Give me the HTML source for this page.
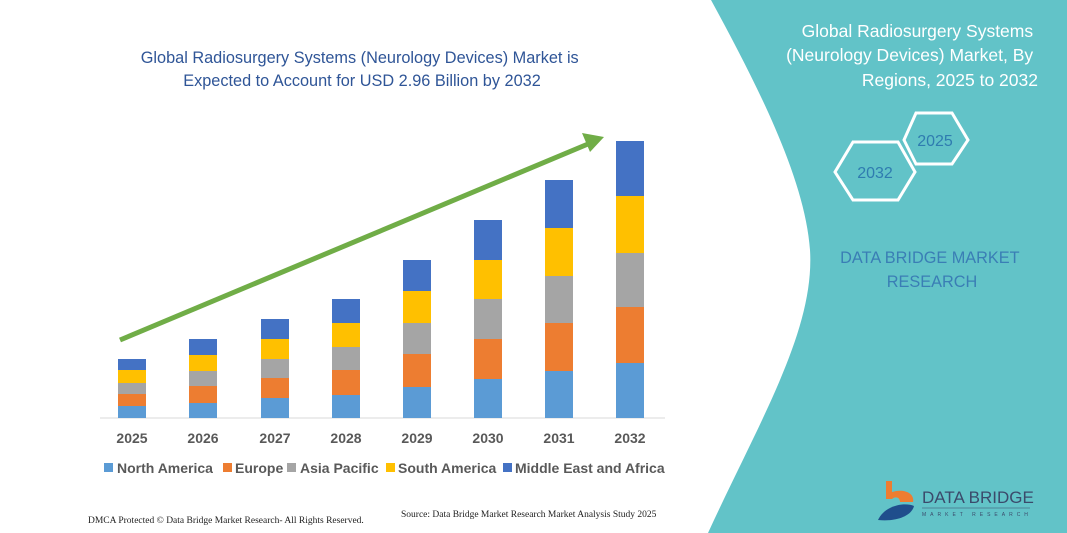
<!DOCTYPE html>
<html><head><meta charset="utf-8"><style>
html,body{margin:0;padding:0;background:#fff;}
svg{display:block;}
</style></head><body>
<svg width="1067" height="533" viewBox="0 0 1067 533" xmlns="http://www.w3.org/2000/svg" font-family="Liberation Sans, sans-serif">
<rect width="1067" height="533" fill="#fff"/>
<path d="M711,0 L1067,0 L1067,533 L708,533 C760,420 815,330 810,250 C805,180 760,90 711,0 Z" fill="#62C3C8"/>
<text text-anchor="middle" font-size="16.3" fill="#2F5597">
<tspan x="362" y="63">Global Radiosurgery Systems (Neurology Devices) Market is</tspan>
<tspan x="362" y="86">Expected to Account for USD 2.96 Billion by 2032</tspan></text>
<text text-anchor="end" font-size="17.5" fill="#fff">
<tspan x="1038" y="37">Global Radiosurgery Systems</tspan>
<tspan x="1038" y="61">(Neurology Devices) Market, By</tspan>
<tspan x="1038" y="86">Regions, 2025 to 2032</tspan></text>
<polygon points="916,113 952,113 968,140 952,164 916,164 904,140" fill="none" stroke="#fff" stroke-width="3"/>
<polygon points="853,142 898,142 915,172 898,200 853,200 835,172" fill="none" stroke="#fff" stroke-width="3"/>
<text x="935" y="146" text-anchor="middle" font-size="16" fill="#2F7CB0">2025</text>
<text x="875" y="178" text-anchor="middle" font-size="16" fill="#2F7CB0">2032</text>
<text text-anchor="middle" font-size="16.3" fill="#3A7EB5">
<tspan x="932" y="263">DATA BRIDGE MARKET</tspan>
<tspan x="932" y="287">RESEARCH</tspan></text>
<line x1="100" y1="418" x2="665" y2="418" stroke="#d9d9d9" stroke-width="1"/>
<g>
<rect x="118" y="406" width="28" height="12" fill="#5B9BD5"/><rect x="118" y="394" width="28" height="12" fill="#ED7D31"/><rect x="118" y="383" width="28" height="11" fill="#A5A5A5"/><rect x="118" y="370" width="28" height="13" fill="#FFC000"/><rect x="118" y="359" width="28" height="11" fill="#4472C4"/>
<rect x="189" y="403" width="28" height="15" fill="#5B9BD5"/><rect x="189" y="386" width="28" height="17" fill="#ED7D31"/><rect x="189" y="371" width="28" height="15" fill="#A5A5A5"/><rect x="189" y="355" width="28" height="16" fill="#FFC000"/><rect x="189" y="339" width="28" height="16" fill="#4472C4"/>
<rect x="261" y="398" width="28" height="20" fill="#5B9BD5"/><rect x="261" y="378" width="28" height="20" fill="#ED7D31"/><rect x="261" y="359" width="28" height="19" fill="#A5A5A5"/><rect x="261" y="339" width="28" height="20" fill="#FFC000"/><rect x="261" y="319" width="28" height="20" fill="#4472C4"/>
<rect x="332" y="395" width="28" height="23" fill="#5B9BD5"/><rect x="332" y="370" width="28" height="25" fill="#ED7D31"/><rect x="332" y="347" width="28" height="23" fill="#A5A5A5"/><rect x="332" y="323" width="28" height="24" fill="#FFC000"/><rect x="332" y="299" width="28" height="24" fill="#4472C4"/>
<rect x="403" y="387" width="28" height="31" fill="#5B9BD5"/><rect x="403" y="354" width="28" height="33" fill="#ED7D31"/><rect x="403" y="323" width="28" height="31" fill="#A5A5A5"/><rect x="403" y="291" width="28" height="32" fill="#FFC000"/><rect x="403" y="260" width="28" height="31" fill="#4472C4"/>
<rect x="474" y="379" width="28" height="39" fill="#5B9BD5"/><rect x="474" y="339" width="28" height="40" fill="#ED7D31"/><rect x="474" y="299" width="28" height="40" fill="#A5A5A5"/><rect x="474" y="260" width="28" height="39" fill="#FFC000"/><rect x="474" y="220" width="28" height="40" fill="#4472C4"/>
<rect x="545" y="371" width="28" height="47" fill="#5B9BD5"/><rect x="545" y="323" width="28" height="48" fill="#ED7D31"/><rect x="545" y="276" width="28" height="47" fill="#A5A5A5"/><rect x="545" y="228" width="28" height="48" fill="#FFC000"/><rect x="545" y="180" width="28" height="48" fill="#4472C4"/>
<rect x="616" y="363" width="28" height="55" fill="#5B9BD5"/><rect x="616" y="307" width="28" height="56" fill="#ED7D31"/><rect x="616" y="253" width="28" height="54" fill="#A5A5A5"/><rect x="616" y="196" width="28" height="57" fill="#FFC000"/><rect x="616" y="141" width="28" height="55" fill="#4472C4"/>
</g>
<line x1="120" y1="340" x2="588" y2="144" stroke="#70AD47" stroke-width="5"/>
<polygon points="604,137 582,133 590,152" fill="#70AD47"/>
<g font-size="14" font-weight="bold" fill="#595959" text-anchor="middle">
<text x="132" y="443">2025</text><text x="203" y="443">2026</text><text x="275" y="443">2027</text><text x="346" y="443">2028</text>
<text x="417" y="443">2029</text><text x="488" y="443">2030</text><text x="559" y="443">2031</text><text x="630" y="443">2032</text>
</g>
<g font-size="14" font-weight="bold" fill="#595959">
<rect x="104" y="463" width="9" height="9" fill="#5B9BD5"/><text x="117" y="473">North America</text>
<rect x="223" y="463" width="9" height="9" fill="#ED7D31"/><text x="235" y="473">Europe</text>
<rect x="287" y="463" width="9" height="9" fill="#A5A5A5"/><text x="300" y="473">Asia Pacific</text>
<rect x="386" y="463" width="9" height="9" fill="#FFC000"/><text x="398" y="473">South America</text>
<rect x="503" y="463" width="9" height="9" fill="#4472C4"/><text x="515" y="473">Middle East and Africa</text>
</g>
<text x="88" y="523" font-family="Liberation Serif, serif" font-size="9.5" fill="#222">DMCA Protected © Data Bridge Market Research-  All Rights Reserved.</text>
<text x="401" y="517" font-family="Liberation Serif, serif" font-size="9.5" fill="#222">Source: Data Bridge Market Research  Market Analysis Study 2025</text>
<path d="M886,481 L892,481 L892,492 C905,488 915,494 913,502 L900,502 C900,497 895,496 892,499 L886,499 Z" fill="#ED7D31"/>
<path d="M878,520 C885,505 905,502 914,506 C912,515 898,522 878,520 Z" fill="#1F4E8C"/>
<text x="922" y="503" font-size="17" fill="#3B4A6B">DATA BRIDGE</text>
<line x1="922" y1="508" x2="1030" y2="508" stroke="#3B4A6B" stroke-width="0.6"/>
<text x="922" y="516" font-size="5" letter-spacing="4" fill="#3B4A6B">MARKET RESEARCH</text>
</svg>
</body></html>
